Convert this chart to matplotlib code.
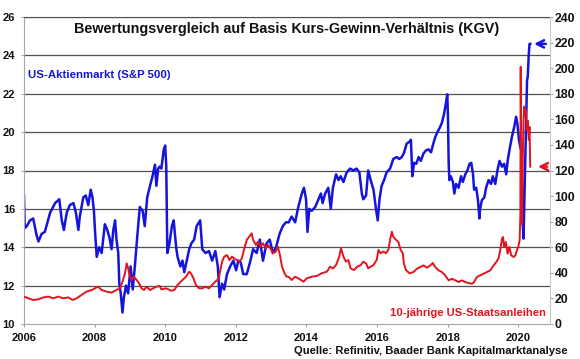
import matplotlib
matplotlib.use("Agg")
import matplotlib.pyplot as plt

plt.rcParams["font.family"] = ["Liberation Sans", "DejaVu Sans"]
plt.rcParams["font.weight"] = "bold"

BLUE = "#1414dc"
RED = "#e3141c"
GRID = "#505050"
SPINE = "#a6a6a6"

TITLE = "Bewertungsvergleich auf Basis Kurs-Gewinn-Verhältnis (KGV)"
SPX_LABEL = "US-Aktienmarkt (S&P 500)"
UST_LABEL = "10-jährige US-Staatsanleihen"
SOURCE = "Quelle: Refinitiv, Baader Bank Kapitalmarktanalyse"

# S&P 500 KGV (linke Achse)
spx_years = [
    2006.00, 2006.02, 2006.08, 2006.17, 2006.26, 2006.36, 2006.41, 2006.50, 2006.59, 2006.74,
    2006.88, 2007.00, 2007.07, 2007.13, 2007.21, 2007.30, 2007.40, 2007.47, 2007.54, 2007.58,
    2007.68, 2007.75, 2007.82, 2007.89, 2007.94, 2007.98, 2008.02, 2008.06, 2008.13, 2008.20,
    2008.29, 2008.36, 2008.42, 2008.48, 2008.53, 2008.58, 2008.62, 2008.67, 2008.70, 2008.74,
    2008.79, 2008.83, 2008.89, 2008.95, 2009.02, 2009.08, 2009.14, 2009.21, 2009.28, 2009.36,
    2009.42, 2009.49, 2009.57, 2009.64, 2009.71, 2009.75, 2009.80, 2009.84, 2009.89, 2009.96,
    2010.00, 2010.03, 2010.06, 2010.12, 2010.19, 2010.24, 2010.31, 2010.35, 2010.43, 2010.49,
    2010.54, 2010.61, 2010.68, 2010.74, 2010.82, 2010.89, 2010.99, 2011.05, 2011.14, 2011.24,
    2011.33, 2011.42, 2011.49, 2011.54, 2011.61, 2011.67, 2011.75, 2011.84, 2011.93, 2012.01,
    2012.07, 2012.14, 2012.21, 2012.31, 2012.40, 2012.49, 2012.59, 2012.68, 2012.77, 2012.87,
    2012.96, 2013.05, 2013.14, 2013.24, 2013.33, 2013.42, 2013.50, 2013.58, 2013.68, 2013.77,
    2013.87, 2013.93, 2013.99, 2014.03, 2014.08, 2014.15, 2014.25, 2014.34, 2014.41, 2014.46,
    2014.53, 2014.62, 2014.69, 2014.75, 2014.84, 2014.91, 2014.97, 2015.05, 2015.14, 2015.24,
    2015.33, 2015.42, 2015.50, 2015.57, 2015.61, 2015.69, 2015.75, 2015.82, 2015.90, 2015.97,
    2016.02, 2016.07, 2016.13, 2016.20, 2016.27, 2016.37, 2016.46, 2016.56, 2016.63, 2016.70,
    2016.76, 2016.84, 2016.92, 2016.96, 2017.00, 2017.05, 2017.11, 2017.18, 2017.24, 2017.32,
    2017.39, 2017.46, 2017.53, 2017.58, 2017.65, 2017.71, 2017.77, 2017.84, 2017.90, 2017.96,
    2017.99, 2018.01, 2018.03, 2018.05, 2018.09, 2018.15, 2018.19, 2018.24, 2018.31, 2018.38,
    2018.43, 2018.50, 2018.56, 2018.62, 2018.67, 2018.72, 2018.75, 2018.81, 2018.86, 2018.90,
    2018.92, 2018.97, 2019.04, 2019.09, 2019.16, 2019.23, 2019.28, 2019.35, 2019.41, 2019.47,
    2019.54, 2019.60, 2019.66, 2019.70, 2019.75, 2019.82, 2019.89, 2019.94, 2019.98, 2020.02,
    2020.06, 2020.09, 2020.11, 2020.13, 2020.15, 2020.17, 2020.20, 2020.23, 2020.25, 2020.27,
    2020.30, 2020.32, 2020.34,
]
spx_pe = [
    16.7, 15.0, 15.1, 15.4, 15.5, 14.6, 14.3, 14.7, 14.8, 15.8,
    16.3, 16.5, 15.4, 14.9, 15.8, 16.2, 16.3, 15.8, 14.9, 15.6,
    16.6, 16.7, 16.2, 17.0, 16.6, 15.9, 14.6, 13.5, 14.0, 13.7,
    15.2, 14.9, 14.5, 13.9, 14.9, 15.4, 14.4, 13.7, 12.1, 11.6,
    10.6, 11.4, 12.0, 11.6, 13.0, 11.8, 13.0, 14.6, 16.1, 15.9,
    15.1, 16.6, 17.2, 17.7, 18.3, 17.2, 18.1, 18.2, 18.1, 19.1,
    19.3, 18.2, 13.7, 14.2, 15.1, 15.4, 14.0, 13.5, 13.0, 13.3,
    12.7, 13.3, 13.9, 14.2, 14.4, 15.1, 15.4, 13.9, 13.7, 13.8,
    13.3, 13.8, 13.0, 11.4, 12.1, 11.8, 12.6, 13.0, 13.3, 12.8,
    13.3, 13.2, 12.6, 12.6, 13.2, 13.9, 13.7, 14.4, 13.3, 14.2,
    14.4, 13.7, 14.0, 14.7, 15.1, 15.3, 15.3, 15.6, 15.3, 16.1,
    16.8, 17.1, 16.5, 14.8, 16.0, 15.9, 16.1, 16.5, 16.8, 16.3,
    16.8, 17.1, 16.0, 17.1, 17.8, 17.5, 17.7, 17.4, 17.9, 18.1,
    18.0, 18.1, 17.9, 16.8, 16.5, 16.7, 18.0, 17.5, 17.0, 16.0,
    15.4, 16.5, 17.2, 17.5, 17.9, 18.1, 18.6, 18.7, 18.6, 18.7,
    18.9, 19.4, 19.5, 19.6, 17.7, 18.4, 18.35, 18.7, 18.5, 18.9,
    19.05, 19.1, 18.95, 19.3, 19.75, 20.0, 20.2, 20.5, 20.96, 21.6,
    21.97, 20.8, 18.35, 17.5, 17.7, 17.4, 16.8, 17.3, 17.1, 17.7,
    17.4, 17.8, 18.0, 18.35, 18.4, 17.8, 17.0, 17.1, 16.45, 15.5,
    16.0, 16.45, 16.6, 17.1, 17.5, 17.3, 17.7, 17.3, 18.0, 18.5,
    18.2, 18.35, 17.8, 18.5, 19.05, 19.75, 20.3, 20.8, 20.4, 19.6,
    19.2, 19.05, 17.0, 15.2, 14.45, 16.1, 18.35, 20.96, 22.7, 22.9,
    24.1, 24.6, 24.6,
]

# 10-jährige US-Staatsanleihen, KGV = 1 / Rendite (rechte Achse)
ust_years = [
    2006.00, 2006.12, 2006.26, 2006.41, 2006.55, 2006.69, 2006.83, 2006.97, 2007.11, 2007.25,
    2007.38, 2007.49, 2007.63, 2007.77, 2007.92, 2008.01, 2008.10, 2008.20, 2008.34, 2008.48,
    2008.62, 2008.72, 2008.79, 2008.86, 2008.91, 2008.95, 2009.00, 2009.05, 2009.11, 2009.19,
    2009.26, 2009.33, 2009.40, 2009.47, 2009.57, 2009.66, 2009.75, 2009.85, 2009.89, 2010.03,
    2010.17, 2010.26, 2010.35, 2010.49, 2010.59, 2010.68, 2010.73, 2010.80, 2010.87, 2010.96,
    2011.05, 2011.14, 2011.24, 2011.33, 2011.42, 2011.52, 2011.56, 2011.61, 2011.67, 2011.75,
    2011.82, 2011.89, 2011.95, 2012.03, 2012.10, 2012.17, 2012.23, 2012.31, 2012.38, 2012.45,
    2012.49, 2012.57, 2012.63, 2012.70, 2012.77, 2012.85, 2012.91, 2012.98, 2013.05, 2013.13,
    2013.19, 2013.24, 2013.31, 2013.38, 2013.44, 2013.49, 2013.58, 2013.68, 2013.77, 2013.92,
    2014.01, 2014.15, 2014.29, 2014.43, 2014.58, 2014.67, 2014.75, 2014.84, 2014.93, 2014.98,
    2015.05, 2015.12, 2015.19, 2015.25, 2015.35, 2015.44, 2015.54, 2015.61, 2015.69, 2015.75,
    2015.82, 2015.90, 2015.99, 2016.04, 2016.10, 2016.18, 2016.25, 2016.32, 2016.37, 2016.42,
    2016.46, 2016.54, 2016.60, 2016.67, 2016.73, 2016.76, 2016.82, 2016.92, 2017.03, 2017.13,
    2017.22, 2017.32, 2017.41, 2017.51, 2017.58, 2017.65, 2017.74, 2017.84, 2017.93, 2018.03,
    2018.12, 2018.22, 2018.31, 2018.40, 2018.50, 2018.59, 2018.69, 2018.75, 2018.83, 2018.92,
    2019.02, 2019.11, 2019.21, 2019.30, 2019.38, 2019.44, 2019.49, 2019.54, 2019.57, 2019.60,
    2019.65, 2019.70, 2019.75, 2019.80, 2019.87, 2019.92, 2019.96, 2020.00, 2020.04, 2020.06,
    2020.07, 2020.09, 2020.11, 2020.13, 2020.15, 2020.17, 2020.20, 2020.22, 2020.24, 2020.27,
    2020.30, 2020.32, 2020.34,
]
ust_pe = [
    21.4, 20.1, 18.8, 19.3, 20.8, 21.4, 20.1, 21.4, 20.1, 20.8,
    18.8, 20.1, 22.7, 25.3, 26.6, 27.9, 29.2, 26.6, 25.3, 24.5,
    26.6, 27.9, 33.1, 39.6, 47.4, 43.5, 37.0, 34.4, 37.0, 34.4,
    31.8, 27.9, 26.6, 29.2, 26.6, 27.9, 29.2, 29.7, 27.1, 27.9,
    26.0, 26.6, 30.5, 34.4, 37.0, 40.9, 39.6, 35.7, 30.5, 27.9,
    27.9, 29.2, 27.9, 30.5, 33.1, 35.7, 42.2, 48.7, 52.6, 53.9,
    50.0, 52.6, 51.3, 50.0, 48.7, 51.3, 57.8, 65.7, 68.3, 70.9,
    65.7, 61.8, 64.4, 60.5, 63.1, 59.1, 61.8, 59.1, 55.2, 56.5,
    60.5, 55.2, 44.8, 39.6, 37.0, 37.0, 34.4, 37.0, 35.7, 33.1,
    35.7, 37.0, 37.5, 39.6, 40.9, 44.8, 43.5, 46.1, 52.6, 59.2,
    52.6, 48.7, 50.0, 43.5, 42.2, 44.8, 46.1, 48.7, 47.4, 43.5,
    44.8, 46.1, 50.0, 57.9, 55.3, 56.6, 55.3, 57.9, 65.7, 72.2,
    68.3, 65.7, 64.4, 57.9, 55.3, 47.4, 42.2, 39.6, 40.6, 43.2,
    44.5, 45.8, 44.0, 45.8, 47.7, 44.5, 42.0, 40.6, 38.0, 34.1,
    35.4, 34.1, 32.8, 34.1, 32.8, 32.0, 31.5, 32.8, 36.7, 38.0,
    39.3, 40.6, 42.0, 45.8, 48.5, 51.1, 57.6, 66.7, 68.0, 60.2,
    64.1, 55.0, 60.2, 53.7, 52.4, 53.7, 57.6, 60.2, 65.4, 85.0,
    201.0, 95.0, 78.0, 130.0, 159.0, 170.0, 162.0, 167.0, 152.0, 159.0,
    144.0, 154.0, 123.0,
]

left_ticks = list(range(10, 27, 2))
right_ticks = list(range(0, 241, 20))
year_ticks = list(range(2006, 2021, 2))

fig = plt.figure(figsize=(5.8, 3.59), dpi=100, facecolor="white")
ax = fig.add_axes([24 / 580, 35 / 359, 526 / 580, 307 / 359])
ax2 = ax.twinx()

ax.plot(spx_years, spx_pe, color=BLUE, lw=1.8)
ax2.plot(ust_years, ust_pe, color=RED, lw=1.4)

ax.set_xlim(2006, 2020.9)
ax.set_ylim(10, 26)
ax2.set_ylim(0, 240)
ax.set_xticks(year_ticks)
ax.set_yticks(left_ticks)
ax2.set_yticks(right_ticks)

ax.yaxis.grid(True, color=GRID, lw=0.9)
ax.get_ygridlines()[0].set_visible(False)
ax.set_axisbelow(True)

for side in ("left", "bottom"):
    ax.spines[side].set_color(SPINE)
ax.spines["top"].set_color(GRID)
ax.spines["right"].set_visible(False)
for side in ("left", "top", "bottom"):
    ax2.spines[side].set_visible(False)
ax2.spines["right"].set_color("#c8c8c8")

ax.tick_params(axis="y", direction="out", length=2.4, width=0.8, color=SPINE,
               pad=4, labelsize=8, labelcolor="#111111")
ax.tick_params(axis="x", direction="out", length=2.5, width=0.8, color=SPINE,
               pad=4, labelsize=8, labelcolor="#111111")
ax2.tick_params(axis="y", direction="out", length=2.2, width=0.8, color=SPINE,
                pad=1.2, labelsize=8.8, labelcolor="#111111")

ax.text(0.5, 0.961, TITLE, transform=ax.transAxes, ha="center", va="center",
        fontsize=10.4, fontweight="bold", color="#111111")
ax.text(0.008, 0.811, SPX_LABEL, transform=ax.transAxes, ha="left", va="center",
        fontsize=8.2, fontweight="bold", color=BLUE)
ax.text(0.992, 0.036, UST_LABEL, transform=ax.transAxes, ha="right", va="center",
        fontsize=8.1, fontweight="bold", color=RED)
fig.text(0.979, 0.022, SOURCE, ha="right", va="center", fontsize=8.1,
         fontweight="bold", color="#111111")

# Pfeile auf die letzten Werte
ax.annotate("", xy=(spx_years[-1] + 0.03, spx_pe[-1]), xytext=(2020.86, spx_pe[-1]),
            arrowprops=dict(arrowstyle="->", color=BLUE, lw=1.8, mutation_scale=13))
ax2.annotate("", xy=(ust_years[-1] + 0.14, ust_pe[-1]), xytext=(2020.9, ust_pe[-1]),
             arrowprops=dict(arrowstyle="->", color=RED, lw=1.8, mutation_scale=13),
             annotation_clip=False)

fig.savefig("out.png", dpi=100, facecolor="white")
